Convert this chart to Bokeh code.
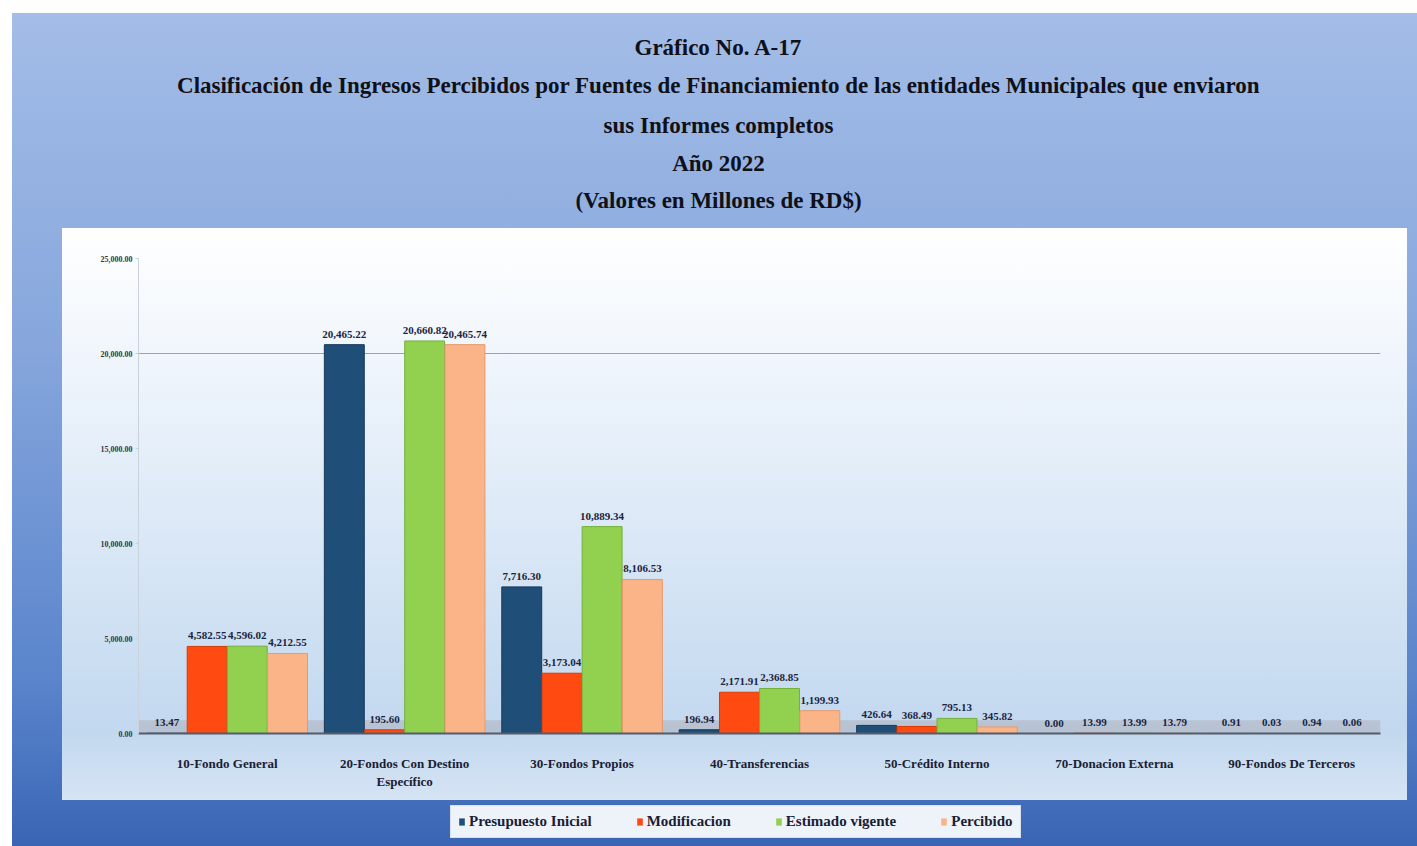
from bokeh.plotting import figure
from bokeh.models import (FactorRange, Range1d, Label, Legend, LegendItem,
                          FixedTicker, NumeralTickFormatter, BoxAnnotation, ColumnDataSource)
from bokeh.layouts import column
from bokeh.transform import dodge
from bokeh.embed import file_html
from bokeh.resources import INLINE

# ---------------- data ----------------
categories = ["10-Fondo General", "20-Fondos Con Destino\nEspecífico", "30-Fondos Propios",
              "40-Transferencias", "50-Crédito Interno", "70-Donacion Externa",
              "90-Fondos De Terceros"]
presupuesto_inicial = [13.47, 20465.22, 7716.30, 196.94, 426.64, 0.00, 0.91]
modificacion = [4582.55, 195.60, 3173.04, 2171.91, 368.49, 13.99, 0.03]
estimado_vigente = [4596.02, 20660.82, 10889.34, 2368.85, 795.13, 13.99, 0.94]
percibido = [4212.55, 20465.74, 8106.53, 1199.93, 345.82, 13.79, 0.06]
series_names = ["Presupuesto Inicial", "Modificacion", "Estimado vigente", "Percibido"]
y_ticks = [0, 5000, 10000, 15000, 20000, 25000]
title_lines = ["Gráfico No. A-17",
               "Clasificación de Ingresos Percibidos por Fuentes de Financiamiento de las entidades Municipales que enviaron",
               "sus Informes completos",
               "Año 2022",
               "(Valores en Millones de RD$)"]

# ---------------- styles ----------------
colors = ["#1f4e79", "#ff4a12", "#92d050", "#fbb487"]
edge_colors = ["#16385a", "#d63a08", "#74b03a", "#e59a6c"]
offsets = [-0.34, -0.113, 0.113, 0.34]
bar_w = 0.225
SERIF = "Liberation Serif"
series_values = [presupuesto_inicial, modificacion, estimado_vigente, percibido]

TOTAL_W = 1405
BORDER_L = 76
BORDER_R = 27

# ---------------- title figure ----------------
tp = figure(width=TOTAL_W, height=215, x_range=Range1d(BORDER_L, TOTAL_W - BORDER_R),
            y_range=Range1d(215, 0),
            toolbar_location=None, output_backend="svg", min_border=0,
            x_axis_location=None, y_axis_location=None, outline_line_color=None,
            border_fill_alpha=0, background_fill_alpha=0, title=None)
tp.xgrid.visible = False
tp.ygrid.visible = False
for txt, yy in zip(title_lines, [34, 72, 112, 150, 187]):
    tp.add_layout(Label(x=706, y=yy, text=txt, text_align="center", text_baseline="middle",
                        text_font=SERIF, text_font_style="bold", text_font_size="23px",
                        text_color="#101018"))

# ---------------- main figure ----------------
p = figure(x_range=FactorRange(*categories), y_range=Range1d(0, 25000),
           width=1345, height=572, toolbar_location=None, output_backend="svg",
           min_border_left=BORDER_L, min_border_right=BORDER_R, min_border_top=30,
           min_border_bottom=67,
           background_fill_alpha=0, border_fill_alpha=0, outline_line_color=None,
           title=None, margin=(0, 10, 0, 50),
           styles={"background": "linear-gradient(180deg, #ffffff 0%, #e4eef9 40%, #c2d8ef 88%, #d6e4f4 100%)"})

p.add_layout(BoxAnnotation(bottom=0, top=700, fill_color="#b3bcc8", fill_alpha=0.75,
                           line_color=None, level="underlay"))

for vals, name, col, ecol, off in zip(series_values, series_names, colors, edge_colors, offsets):
    src = ColumnDataSource(dict(cat=categories, val=vals,
                                lbl=[f"{v:,.2f}" for v in vals]))
    p.vbar(x=dodge("cat", off, range=p.x_range), top="val", width=bar_w, source=src,
           fill_color=col, line_color=ecol, line_width=1)
    p.text(x=dodge("cat", off, range=p.x_range), y="val", text="lbl", source=src,
           text_align="center", text_baseline="bottom", y_offset=-7,
           text_font={"value": SERIF}, text_font_style="bold", text_font_size="11px",
           text_color="#1b2440")

p.xgrid.visible = False
p.ygrid.ticker = FixedTicker(ticks=[20000])
p.ygrid.grid_line_color = "#9aa4b2"
p.ygrid.grid_line_width = 1

p.yaxis.ticker = FixedTicker(ticks=y_ticks)
p.yaxis.formatter = NumeralTickFormatter(format="0,0.00")
p.yaxis.major_label_text_font = SERIF
p.yaxis.major_label_text_font_style = "bold"
p.yaxis.major_label_text_font_size = "8px"
p.yaxis.major_label_text_color = "#303848"
p.yaxis.axis_line_color = "#c9d2dd"
p.yaxis.major_tick_line_color = "#c9d2dd"
p.yaxis.major_tick_out = 3
p.yaxis.major_tick_in = 0
p.yaxis.minor_tick_line_color = None
p.yaxis.major_label_standoff = 3

p.xaxis.major_label_text_font = SERIF
p.xaxis.major_label_text_font_style = "bold"
p.xaxis.major_label_text_font_size = "13px"
p.xaxis.major_label_text_color = "#1a2034"
p.xaxis.axis_line_color = "#525c6a"
p.xaxis.axis_line_width = 2
p.xaxis.major_tick_line_color = None
p.xaxis.major_label_standoff = 16

# ---------------- legend figure ----------------
lp = figure(width=TOTAL_W, height=46, x_range=Range1d(0, 1), y_range=Range1d(0, 1),
            toolbar_location=None, output_backend="svg", min_border=0,
            x_axis_location=None, y_axis_location=None, outline_line_color=None,
            border_fill_alpha=0, background_fill_alpha=0, title=None)
lp.xgrid.visible = False
lp.ygrid.visible = False
items = []
for name, col in zip(series_names, colors):
    # bars placed outside the visible range: only their legend swatch is shown
    r = lp.vbar(x=[-10], top=[-10], bottom=[-11], width=0.1, fill_color=col, line_color=None)
    items.append(LegendItem(label=name, renderers=[r]))
leg = Legend(items=items, orientation="horizontal", location=(438 - BORDER_L, 8),
             label_text_font=SERIF, label_text_font_style="bold", label_text_font_size="15px",
             label_text_color="#1a2034", glyph_width=7, glyph_height=9, label_standoff=4,
             spacing=44, padding=7, margin=0, label_height=12,
             background_fill_color="#eef3fa", background_fill_alpha=1,
             border_line_color="#c3cfe2")
lp.add_layout(leg)

layout = column(tp, p, lp, spacing=0, margin=(13, 0, 0, 12),
                styles={"background": "linear-gradient(180deg, #a3bde7 0%, #86a6dc 40%, #5a85cc 80%, #3a65b4 100%)"})

open("out.html", "w").write(file_html(layout, INLINE))
